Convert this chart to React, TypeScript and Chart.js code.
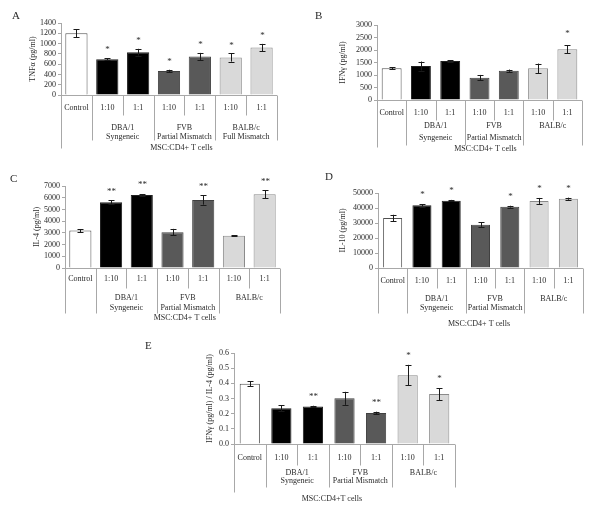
import React, { useEffect, useRef } from "react";
import { Chart, registerables } from "chart.js";
Chart.register(...registerables);

// ---------- data ----------
const categories = ["Control", "1:10", "1:1", "1:10", "1:1", "1:10", "1:1"];
const groupsFull = [["DBA/1", "Syngeneic"], ["FVB", "Partial Mismatch"], ["BALB/c", "Full Mismatch"]];
const groupsShort = [["DBA/1", "Syngeneic"], ["FVB", "Partial Mismatch"], ["BALB/c"]];
const outerLabel = "MSC:CD4+ T cells";
const outerLabelE = "MSC:CD4+T cells";

const tnfValues = [1200, 697, 833, 469, 749, 729, 924];
const tnfErrors = [75, 20, 65, 22, 70, 80, 70];
const tnfStars = ["", "*", "*", "*", "*", "*", "*"];

const ifnValues = [1267, 1360, 1560, 893, 1173, 1267, 2027];
const ifnErrors = [35, 180, 35, 110, 45, 190, 160];
const ifnStars = ["", "", "", "", "", "", "*"];

const il4Values = [3200, 5610, 6230, 3060, 5810, 2750, 6290];
const il4Errors = [130, 160, 80, 280, 400, 60, 350];
const il4Stars = ["", "**", "**", "", "**", "", "**"];

const il10Values = [33300, 41800, 44900, 28900, 40900, 44700, 46200];
const il10Errors = [2200, 800, 500, 1500, 600, 2000, 700];
const il10Stars = ["", "*", "*", "", "*", "*", "*"];

const ratioValues = [0.397, 0.236, 0.247, 0.301, 0.205, 0.454, 0.329];
const ratioErrors = [0.017, 0.02, 0.005, 0.043, 0.008, 0.068, 0.04];
const ratioStars = ["", "", "**", "", "**", "*", "*"];

// ---------- styles ----------
const fills = ["#ffffff", "#000000", "#595959", "#595959", "#595959", "#d9d9d9", "#d9d9d9"];
const fillsFix = ["#ffffff", "#000000", "#000000", "#595959", "#595959", "#d9d9d9", "#d9d9d9"];
const borders = ["#505050", "#202020", "#202020", "#404040", "#404040", "#8a8a8a", "#8a8a8a"];
const FONT = "'Liberation Serif', 'Times New Roman', serif";
const TXT = "#2a2a2a";
const LINE = "#a8a8a8";

const overlay = {
  id: "overlay",
  afterDatasetsDraw(chart: any, _a: any, o: any) {
    const { ctx } = chart;
    const x = chart.scales.x;
    const y = chart.scales.y;
    const vals = chart.data.datasets[0].data as number[];
    ctx.save();
    ctx.strokeStyle = "#1a1a1a";
    ctx.lineWidth = 1;
    ctx.fillStyle = TXT;
    vals.forEach((v: number, i: number) => {
      const px = Math.round(x.getPixelForValue(i)) + 0.5;
      const t = y.getPixelForValue(v + o.errors[i]);
      const b = y.getPixelForValue(v - o.errors[i]);
      ctx.beginPath();
      ctx.moveTo(px, t);
      ctx.lineTo(px, b);
      ctx.moveTo(px - 3, Math.round(t) + 0.5);
      ctx.lineTo(px + 3, Math.round(t) + 0.5);
      ctx.moveTo(px - 3, Math.round(b) + 0.5);
      ctx.lineTo(px + 3, Math.round(b) + 0.5);
      ctx.stroke();
      if (o.stars[i]) {
        ctx.font = `9px ${FONT}`;
        ctx.textAlign = "center";
        ctx.textBaseline = "middle";
        ctx.fillText(o.stars[i], px, t - o.starGap);
      }
    });
    ctx.restore();
  },
  afterDraw(chart: any, _a: any, o: any) {
    const { ctx, chartArea } = chart;
    const x = chart.scales.x;
    const y = chart.scales.y;
    const base = Math.round(y.getPixelForValue(0)) + 0.5;
    ctx.save();
    ctx.strokeStyle = LINE;
    ctx.lineWidth = 1;
    ctx.beginPath();
    ctx.moveTo(chartArea.left, base);
    ctx.lineTo(chartArea.right, base);
    const vline = (v: number, len: number) => {
      const px = Math.round(x.getPixelForValue(v)) + 0.5;
      ctx.moveTo(px, base);
      ctx.lineTo(px, base + len);
    };
    vline(-0.5, o.leftEnd);
    [0.5, 2.5, 4.5, 6.5].forEach((v) => vline(v, o.lineEnd));
    [1.5, 3.5, 5.5].forEach((v) => vline(v, o.rowEnd));
    ctx.stroke();

    ctx.fillStyle = TXT;
    ctx.font = `8px ${FONT}`;
    ctx.textAlign = "center";
    ctx.textBaseline = "middle";
    categories.forEach((c, i) => ctx.fillText(c, x.getPixelForValue(i), base + o.row1));
    o.groups.forEach((g: string[], k: number) => {
      const gx = x.getPixelForValue(1.5 + 2 * k);
      g.forEach((line, j) => ctx.fillText(line, gx, base + (j === 0 ? o.g1 : o.g2)));
    });
    ctx.fillText(o.outer, x.getPixelForValue(o.outerAt), base + o.msc);

    ctx.translate(chartArea.left - o.titleOffset, (chartArea.top + chartArea.bottom) / 2);
    ctx.rotate(-Math.PI / 2);
    ctx.fillText(o.title, 0, 0);
    ctx.restore();
  },
};

type Cfg = {
  letter: string; lx: number; ly: number;
  left: number; top: number; w: number; h: number;
  axisW: number; padTop: number; padRight: number; padBottom: number;
  values: number[]; errors: number[]; stars: string[];
  max: number; step: number; dec: number; barPct: number;
  title: string; titleOffset: number; groups: string[][]; outer: string; outerAt: number;
  row1: number; g1: number; g2: number; rowEnd: number; lineEnd: number; leftEnd: number; msc: number; starGap: number;
};

const panels: Cfg[] = [
  {
    letter: "A", lx: 12, ly: 8, left: 0, top: 0, w: 300, h: 170,
    axisW: 61, padTop: 23, padRight: 23, padBottom: 75,
    values: tnfValues, errors: tnfErrors, stars: tnfStars, max: 1400, step: 200, dec: 0, barPct: 0.72,
    title: "TNFα (pg/ml)", titleOffset: 28, groups: groupsFull, outer: outerLabel, outerAt: 3.4,
    row1: 12, g1: 32, g2: 41, rowEnd: 20, lineEnd: 45, leftEnd: 53, msc: 52, starGap: 8,
  },
  {
    letter: "B", lx: 315, ly: 8, left: 300, top: 0, w: 300, h: 170,
    axisW: 77, padTop: 25, padRight: 18, padBottom: 70,
    values: ifnValues, errors: ifnErrors, stars: ifnStars, max: 3000, step: 500, dec: 0, barPct: 0.68,
    title: "IFNγ (pg/ml)", titleOffset: 34, groups: groupsShort, outer: outerLabel, outerAt: 3.2,
    row1: 12, g1: 25, g2: 37, rowEnd: 20, lineEnd: 45, leftEnd: 47, msc: 48, starGap: 12,
  },
  {
    letter: "C", lx: 10, ly: 171, left: 0, top: 170, w: 300, h: 170,
    axisW: 65, padTop: 16, padRight: 20, padBottom: 72,
    values: il4Values, errors: il4Errors, stars: il4Stars, max: 7000, step: 1000, dec: 0, barPct: 0.72,
    title: "IL-4 (pg/ml)", titleOffset: 28, groups: groupsShort, outer: outerLabel, outerAt: 3.4,
    row1: 10, g1: 29, g2: 39, rowEnd: 20, lineEnd: 45, leftEnd: 45, msc: 49, starGap: 9,
  },
  {
    letter: "D", lx: 325, ly: 169, left: 300, top: 170, w: 300, h: 170,
    axisW: 78, padTop: 23, padRight: 17, padBottom: 72,
    values: il10Values, errors: il10Errors, stars: il10Stars, max: 50000, step: 10000, dec: 0, barPct: 0.65,
    title: "IL-10 (pg/ml)", titleOffset: 35, groups: groupsShort, outer: outerLabel, outerAt: 2.95,
    row1: 12, g1: 30, g2: 39, rowEnd: 20, lineEnd: 45, leftEnd: 45, msc: 55, starGap: 9,
  },
  {
    letter: "E", lx: 145, ly: 338, left: 140, top: 340, w: 330, h: 171,
    axisW: 94, padTop: 13, padRight: 15, padBottom: 67,
    values: ratioValues, errors: ratioErrors, stars: ratioStars, max: 0.6, step: 0.1, dec: 1, barPct: 0.64,
    title: "IFNγ (pg/ml) / IL-4 (pg/ml)", titleOffset: 24, groups: groupsShort, outer: outerLabelE, outerAt: 2.6,
    row1: 13, g1: 28, g2: 36, rowEnd: 21, lineEnd: 43, leftEnd: 48, msc: 54, starGap: 9,
  },
];

function Panel({ cfg }: { cfg: Cfg }) {
  const ref = useRef<HTMLCanvasElement>(null);
  useEffect(() => {
    if (!ref.current) return;
    const chart = new Chart(ref.current, {
      type: "bar",
      data: {
        labels: categories,
        datasets: [
          {
            data: cfg.values,
            backgroundColor: fillsFix,
            borderColor: borders,
            borderWidth: 1,
            barPercentage: cfg.barPct,
            categoryPercentage: 1,
          },
        ],
      },
      options: {
        responsive: false,
        animation: false,
        devicePixelRatio: 1,
        layout: { padding: { left: 0, top: cfg.padTop, right: cfg.padRight, bottom: cfg.padBottom } },
        plugins: {
          legend: { display: false },
          tooltip: { enabled: false },
          overlay: {
            errors: cfg.errors, stars: cfg.stars, starGap: cfg.starGap,
            title: cfg.title, titleOffset: cfg.titleOffset, groups: cfg.groups,
            outer: cfg.outer, outerAt: cfg.outerAt, row1: cfg.row1, g1: cfg.g1, g2: cfg.g2,
            rowEnd: cfg.rowEnd, lineEnd: cfg.lineEnd, leftEnd: cfg.leftEnd, msc: cfg.msc,
          },
        } as any,
        scales: {
          x: { display: false, offset: true },
          y: {
            min: 0,
            max: cfg.max,
            afterFit: (s: any) => { s.width = cfg.axisW; },
            border: { display: true, color: LINE, width: 1 },
            grid: { display: true, drawOnChartArea: false, drawTicks: true, tickLength: 3, color: LINE },
            ticks: {
              stepSize: cfg.step,
              autoSkip: false,
              padding: 2,
              color: TXT,
              font: { family: FONT, size: 8 },
              callback: (v: any) => Number(v).toFixed(cfg.dec),
            },
          },
        },
      },
      plugins: [overlay as any],
    });
    return () => chart.destroy();
  }, [cfg]);
  return (
    <canvas
      ref={ref}
      width={cfg.w}
      height={cfg.h}
      style={{ position: "absolute", left: cfg.left, top: cfg.top, width: cfg.w, height: cfg.h }}
    />
  );
}

export default function App() {
  return (
    <div style={{ position: "absolute", left: 0, top: 0, width: 600, height: 511, background: "#fff", overflow: "hidden" }}>
      {panels.map((p) => (
        <React.Fragment key={p.letter}>
          <Panel cfg={p} />
          <div
            style={{
              position: "absolute", left: p.lx, top: p.ly, fontFamily: FONT, fontSize: 11, color: TXT, lineHeight: "14px",
            }}
          >
            {p.letter}
          </div>
        </React.Fragment>
      ))}
    </div>
  );
}
